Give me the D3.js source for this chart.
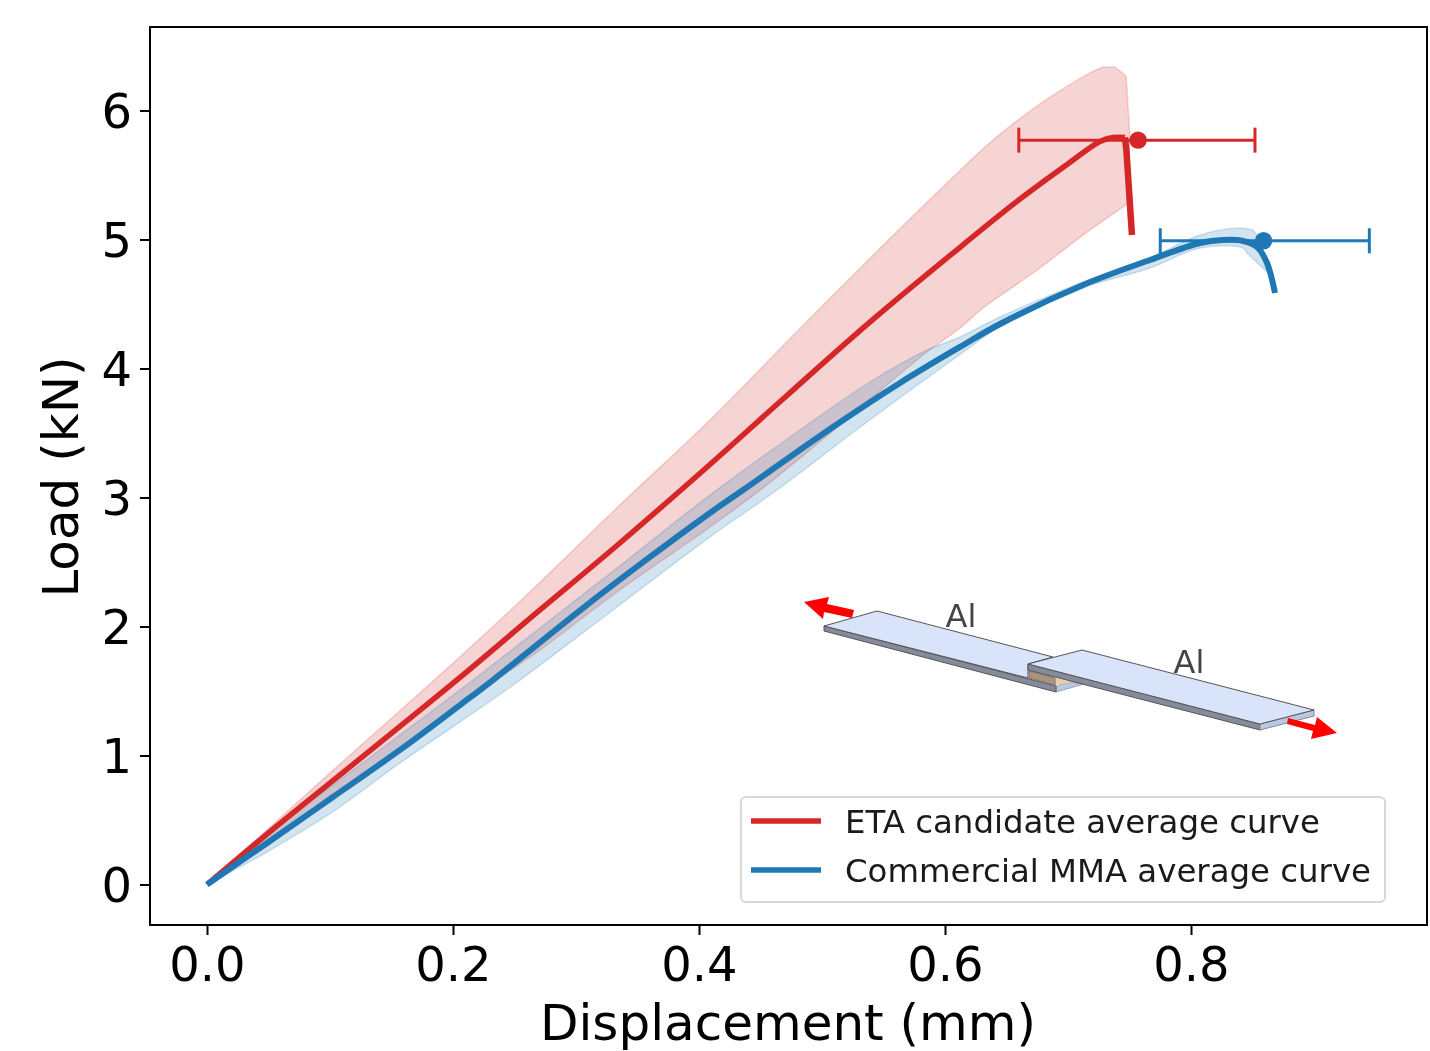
<!DOCTYPE html>
<html>
<head>
<meta charset="utf-8">
<script src="https://cdn.jsdelivr.net/npm/d3@7"></script>
<style>
  html, body { margin: 0; padding: 0; background: #fff; }
  svg { display: block; font-family: "DejaVu Sans", sans-serif; filter: blur(0.6px); }
</style>
</head>
<body>
<svg id="chart" width="1430" height="1051"></svg>
<script>
// [displacement, load]
const etaMean = [[0,0],[0.0488,0.391],[0.1024,0.806],[0.1569,1.225],[0.2057,1.605],[0.2683,2.109],[0.3333,2.628],[0.4089,3.256],[0.4715,3.791],[0.5415,4.38],[0.6041,4.876],[0.6585,5.295],[0.6992,5.581],[0.726,5.76],[0.7366,5.791],[0.7463,5.791]];
const etaDrop = [[0.7463,5.791],[0.7475,5.69],[0.752,5.035]];
const etaUpper = [[0,0],[0.0756,0.655],[0.1301,1.12],[0.2057,1.764],[0.265,2.29],[0.3333,2.92],[0.4089,3.6],[0.4821,4.31],[0.5577,5.03],[0.6041,5.46],[0.639,5.77],[0.6797,6.066],[0.7179,6.291],[0.7285,6.337]];
const etaCorner = [[0.7285,6.337],[0.7382,6.337],[0.7472,6.267],[0.7504,5.795],[0.748,5.275],[0.7122,5.035]];
const etaLower = [[0.7122,5.035],[0.6715,4.74],[0.6309,4.469],[0.6122,4.314],[0.5854,4.128],[0.5634,3.957],[0.5089,3.516],[0.452,3.074],[0.4089,2.771],[0.3333,2.267],[0.2707,1.818],[0.2057,1.391],[0.1569,1.035],[0.1024,0.671],[0.0488,0.298],[0,0]];

const mmaMean = [[0,0],[0.0488,0.322],[0.1024,0.678],[0.1569,1.043],[0.2057,1.391],[0.2325,1.585],[0.3057,2.143],[0.3602,2.539],[0.4089,2.88],[0.4358,3.058],[0.5089,3.547],[0.5634,3.888],[0.6122,4.167],[0.6447,4.345],[0.7122,4.647],[0.7667,4.841],[0.8073,4.973],[0.826,4.996],[0.8423,4.988],[0.8537,4.942],[0.8618,4.818],[0.8683,4.585]];
const mmaUpper = [[0,0],[0.0488,0.384],[0.1024,0.771],[0.1569,1.159],[0.2057,1.508],[0.2789,2.05],[0.3333,2.453],[0.4089,3.019],[0.4821,3.523],[0.5366,3.88],[0.5854,4.143],[0.6122,4.244],[0.6447,4.399],[0.7122,4.671],[0.7667,4.857],[0.8073,5.035],[0.8398,5.089],[0.8504,5.074]];
const mmaCorner = [[0.8504,5.074],[0.8561,4.996],[0.8618,4.748],[0.8455,4.895]];
const mmaLower = [[0.8455,4.895],[0.8423,4.934],[0.8073,4.934],[0.7667,4.779],[0.7122,4.624],[0.6447,4.322],[0.6081,4.081],[0.5366,3.585],[0.4634,3.058],[0.4089,2.694],[0.3333,2.151],[0.2545,1.585],[0.2057,1.26],[0.1569,0.942],[0.1024,0.565],[0.0488,0.252],[0,0]];

// strength point and its spread: [low, mean, high, load]
const etaPeak = [0.660, 0.757, 0.852, 5.77];
const mmaPeak = [0.775, 0.859, 0.945, 4.99];

const xTicks = [0, 0.2, 0.4, 0.6, 0.8];
const yTicks = [0, 1, 2, 3, 4, 5, 6];
const legendLabels = ['ETA candidate average curve', 'Commercial MMA average curve'];

const red = '#d62728', blue = '#1f77b4';

const svg = d3.select('#chart');
const frame = {left: 150, right: 1427, top: 27, bottom: 925};

const x = d3.scaleLinear().domain([-0.04634, 0.99187]).range([frame.left, frame.right]);
const y = d3.scaleLinear().domain([-0.314, 6.647]).range([frame.bottom, frame.top]);

const line = d3.line().x(d => x(d[0])).y(d => y(d[1])).curve(d3.curveCatmullRom.alpha(0.5));
const straight = d3.line().x(d => x(d[0])).y(d => y(d[1]));

// bands
function band(upper, corner, lower, color) {
  const d = line(upper) + straight(corner).replace(/^M/, 'L') + line(lower).replace(/^M/, 'L') + 'Z';
  svg.append('path')
    .attr('d', d)
    .attr('fill', color)
    .attr('fill-opacity', 0.2)
    .attr('stroke', color)
    .attr('stroke-opacity', 0.2)
    .attr('stroke-width', 1.5);
}
band(etaUpper, etaCorner, etaLower, red);
band(mmaUpper, mmaCorner, mmaLower, blue);

// average curves
function curve(data, color, w) {
  svg.append('path')
    .attr('d', line(data))
    .attr('fill', 'none')
    .attr('stroke', color)
    .attr('stroke-width', w)
    .attr('stroke-linejoin', 'round');
}
curve(etaMean, red, 5.5);
svg.append('path').attr('d', straight(etaDrop)).attr('fill', 'none').attr('stroke', red).attr('stroke-width', 6.5);
curve(mmaMean, blue, 6);

// error bars
function errorBar(p, color) {
  const g = svg.append('g').attr('stroke', color).attr('stroke-width', 3);
  g.append('line').attr('x1', x(p[0])).attr('x2', x(p[2])).attr('y1', y(p[3])).attr('y2', y(p[3]));
  [p[0], p[2]].forEach(v => {
    g.append('line').attr('x1', x(v)).attr('x2', x(v)).attr('y1', y(p[3]) - 12.5).attr('y2', y(p[3]) + 12.5);
  });
  svg.append('circle').attr('cx', x(p[1])).attr('cy', y(p[3])).attr('r', 8.7).attr('fill', color);
}
errorBar(etaPeak, red);
errorBar(mmaPeak, blue);

// specimen sketch
const faceFill = '#d9e4fb', sideFill = '#858b9b', endFill = '#b9c8e2', edge = '#555';
const sketch = svg.append('g');
const poly = (pts, fill, stroke) => sketch.append('polygon')
  .attr('points', pts.map(p => p.join(',')).join(' '))
  .attr('fill', fill)
  .attr('stroke', stroke || 'none')
  .attr('stroke-width', 1);

// lower plate
poly([[1056,686],[1070,682],[1084,684],[1056,692]], endFill, '#9aa');
poly([[824,626],[1056,686],[1056,692],[824,631]], sideFill, edge);
poly([[824,626],[877,611],[1053,657],[1028,664],[1028,678]], faceFill, edge);
// adhesive
poly([[1055,678],[1073,682],[1055,685]], '#eccba9');
poly([[1029,671],[1055,678],[1055,685],[1029,678]], '#ad9279', '#777');
// upper plate
poly([[1028,664],[1260,724],[1260,730],[1028,670]], sideFill, edge);
poly([[1260,724],[1314,710],[1314,716],[1260,730]], endFill, '#888');
poly([[1028,664],[1082,650],[1314,710],[1260,724]], faceFill, edge);

// load arrows
poly([[854,610],[827,604],[829,597],[804,602],[823,619],[824,612],[852,618]], '#f00');
poly([[1288,718],[1315,725],[1317,717],[1337,733],[1311,739],[1313,731],[1287,724]], '#f00');

sketch.selectAll('text.al').data(['Al', 'Al']).enter().append('text')
  .attr('class', 'al')
  .attr('x', (d, i) => [961, 1189][i])
  .attr('y', (d, i) => [627, 673][i])
  .attr('text-anchor', 'middle')
  .attr('font-size', 32)
  .attr('fill', '#444')
  .text(d => d);

// frame + axes
svg.append('rect')
  .attr('x', frame.left).attr('y', frame.top)
  .attr('width', frame.right - frame.left).attr('height', frame.bottom - frame.top)
  .attr('fill', 'none').attr('stroke', '#000').attr('stroke-width', 2);

const xAxis = d3.axisBottom(x).tickValues(xTicks).tickFormat(d3.format('.1f')).tickSize(10).tickPadding(12);
const yAxis = d3.axisLeft(y).tickValues(yTicks).tickFormat(d3.format('d')).tickSize(10).tickPadding(8);

const gx = svg.append('g').attr('transform', 'translate(0,' + frame.bottom + ')').call(xAxis);
const gy = svg.append('g').attr('transform', 'translate(' + frame.left + ',0)').call(yAxis);
[gx, gy].forEach(g => {
  g.select('.domain').remove();
  g.selectAll('.tick line').attr('stroke', '#000').attr('stroke-width', 2);
  g.selectAll('.tick text').attr('fill', '#000').attr('font-size', 48).attr('font-family', '"DejaVu Sans", sans-serif');
});
gy.selectAll('.tick text').attr('dy', '0.36em');

svg.append('text')
  .attr('x', 788).attr('y', 1040)
  .attr('text-anchor', 'middle').attr('font-size', 50).attr('fill', '#000')
  .text('Displacement (mm)');

svg.append('text')
  .attr('transform', 'translate(78,477) rotate(-90)')
  .attr('text-anchor', 'middle').attr('font-size', 50).attr('fill', '#000')
  .text('Load (kN)');

// legend
const legend = svg.append('g');
legend.append('rect')
  .attr('x', 741).attr('y', 797).attr('width', 644).attr('height', 105).attr('rx', 5)
  .attr('fill', '#fff').attr('fill-opacity', 0.8).attr('stroke', '#d8d8d8').attr('stroke-width', 2);
legendLabels.forEach((label, i) => {
  legend.append('line')
    .attr('x1', 751).attr('x2', 821).attr('y1', 821 + i * 49).attr('y2', 821 + i * 49)
    .attr('stroke', i ? blue : red).attr('stroke-width', 5.5);
  legend.append('text')
    .attr('x', 845).attr('y', 833 + i * 49)
    .attr('font-size', 32.4).attr('fill', '#1a1a1a')
    .text(label);
});
</script>
</body>
</html>
